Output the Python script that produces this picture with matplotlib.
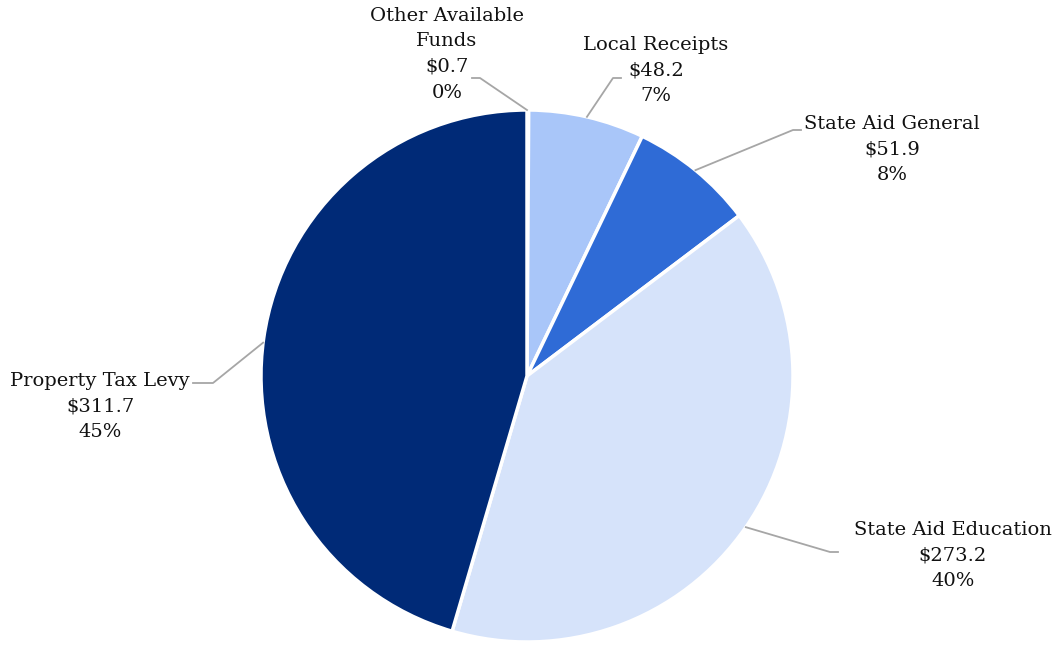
import numpy as np
import matplotlib.pyplot as plt

categories = ["Other Available\nFunds", "Local Receipts", "State Aid General",
              "State Aid Education", "Property Tax Levy"]
values = [0.7, 48.2, 51.9, 273.2, 311.7]
colors = ["#8FA9D8", "#A9C6F9", "#2F6BD6", "#D6E3FA", "#002A77"]

W, H = 1055, 650
cx, cy, r = 527, 376, 266

# label layout in pixels: text centre x, first line centre y, elbow point, line end
label_pos = [(447, 16), (656, 45), (892, 124), (953, 530), (100, 381)]
elbows = [(480, 78), (613, 78), (793, 130), (830, 552), (213, 383)]
ends = [(472, 78), (621, 78), (801, 130), (838, 552), (193, 383)]
anchor_angle = [90, None, None, None, 172.8]

fig = plt.figure(figsize=(W / 100, H / 100), dpi=100)
ax = fig.add_axes([0, 0, 1, 1])

wedges, _ = ax.pie(values, colors=colors, startangle=90, counterclock=False,
                   center=(cx, H - cy), radius=r,
                   wedgeprops=dict(edgecolor="white", linewidth=2.5))
ax.set_xlim(0, W)
ax.set_ylim(0, H)
ax.set_aspect("equal")
ax.axis("off")

total = sum(values)
font = dict(family="DejaVu Serif", fontsize=14, color="#111111")
for i, (w, name, v) in enumerate(zip(wedges, categories, values)):
    ang = anchor_angle[i]
    if ang is None:
        ang = (w.theta1 + w.theta2) / 2
    sx = cx + r * np.cos(np.radians(ang))
    sy = (H - cy) + r * np.sin(np.radians(ang))
    ex, ey = elbows[i]
    fx, fy = ends[i]
    ax.plot([sx, ex, fx], [sy, H - ey, H - fy], color="#A6A6A6", lw=1.3,
            solid_joinstyle="round")
    lines = name.split("\n") + [f"${v:.1f}", f"{v / total * 100:.0f}%"]
    tx, ty = label_pos[i]
    for j, line in enumerate(lines):
        ax.text(tx, H - (ty + j * 25.5), line, ha="center", va="center", **font)

fig.savefig("out.png", dpi=100)
